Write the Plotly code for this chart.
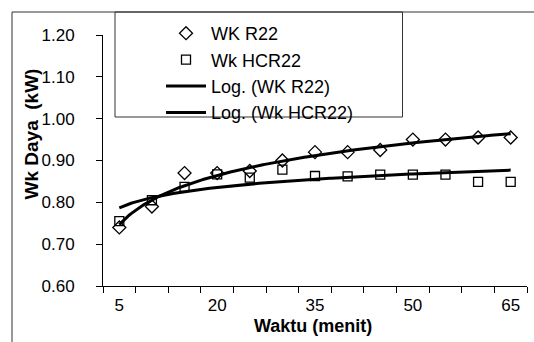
import numpy as np
import plotly.graph_objects as go

# ---- data ----
waktu = [5, 10, 15, 20, 25, 30, 35, 40, 45, 50, 55, 60, 65]
wk_r22 = [0.74, 0.79, 0.87, 0.87, 0.875, 0.90, 0.92, 0.92, 0.925, 0.95, 0.95, 0.955, 0.955]
wk_hcr22 = [0.755, 0.805, 0.837, 0.867, 0.859, 0.878, 0.863, 0.862, 0.866, 0.866, 0.866, 0.849, 0.849]
x_ticks = [5, 20, 35, 50, 65]
y_ticks = [0.60, 0.70, 0.80, 0.90, 1.00, 1.10, 1.20]

# Logarithmic trendlines (Excel style: x = category index 1..n)
idx = np.arange(1, len(waktu) + 1)
fine_idx = np.linspace(1, len(waktu), 200)
fine_x = np.interp(fine_idx, idx, waktu)
b_r22, a_r22 = np.polyfit(np.log(idx), wk_r22, 1)
b_hc, a_hc = np.polyfit(np.log(idx), wk_hcr22, 1)
trend_r22 = a_r22 + b_r22 * np.log(fine_idx)
trend_hc = a_hc + b_hc * np.log(fine_idx)

FONT = "Liberation Sans, Arial, sans-serif"

fig = go.Figure()
fig.add_trace(go.Scatter(x=waktu, y=wk_r22, mode="markers", name="WK R22",
                         marker=dict(symbol="diamond-open", size=10, color="black",
                                     line=dict(width=1.3, color="black"))))
fig.add_trace(go.Scatter(x=waktu, y=wk_hcr22, mode="markers", name="Wk HCR22",
                         marker=dict(symbol="square-open", size=9, color="black",
                                     line=dict(width=1.3, color="black"))))
fig.add_trace(go.Scatter(x=fine_x, y=trend_r22, mode="lines", name="Log. (WK R22)",
                         line=dict(color="black", width=3)))
fig.add_trace(go.Scatter(x=fine_x, y=trend_hc, mode="lines", name="Log. (Wk HCR22)",
                         line=dict(color="black", width=3)))

L, R, T, B = 103, 7, 35, 56
W, H = 534, 342
pw, ph = W - L - R, H - T - B

def px_x(p):
    return (p - L) / pw

def px_y(p):
    return (H - B - p) / ph

fig.update_layout(
    width=W, height=H,
    margin=dict(l=L, r=R, t=T, b=B, autoexpand=False),
    paper_bgcolor="white", plot_bgcolor="white",
    font=dict(family=FONT, color="black", size=17),
    showlegend=True,
    legend=dict(x=px_x(161), y=px_y(15), xanchor="left", yanchor="top",
                bgcolor="rgba(0,0,0,0)", borderwidth=0,
                font=dict(family=FONT, size=18, color="black"),
                itemwidth=40, tracegroupgap=0),
    xaxis=dict(range=[2.5, 67.5], tickmode="array", tickvals=x_ticks,
               ticktext=[str(v) for v in x_ticks], ticks="", showgrid=False,
               zeroline=False, showline=True, linecolor="black", linewidth=1,
               ticklabelstandoff=4, automargin=False,
               tickfont=dict(family=FONT, size=17),
               minor=dict(tick0=2.5, dtick=5, ticks="outside", ticklen=6,
                          tickcolor="black", tickwidth=1, showgrid=False)),
    yaxis=dict(range=[0.6, 1.2], tickmode="array", tickvals=y_ticks,
               ticktext=[f"{v:.2f}" for v in y_ticks], ticks="outside",
               ticklen=6, tickcolor="black", showgrid=False, zeroline=False,
               showline=True, linecolor="black", linewidth=1,
               ticklabelstandoff=18, automargin=False,
               tickfont=dict(family=FONT, size=17)),
    shapes=[
        # legend box
        dict(type="rect", xref="paper", yref="paper",
             x0=px_x(115), x1=px_x(402.5), y0=px_y(117), y1=px_y(12),
             line=dict(color="#333333", width=1), fillcolor="white", layer="below"),
        # outer chart border (left and top)
        dict(type="line", xref="paper", yref="paper",
             x0=px_x(12), x1=px_x(12), y0=px_y(350), y1=px_y(12),
             line=dict(color="#333333", width=1)),
        dict(type="line", xref="paper", yref="paper",
             x0=px_x(12), x1=px_x(540), y0=px_y(12), y1=px_y(12),
             line=dict(color="#333333", width=1)),
    ],
    annotations=[
        dict(text="<b>Wk Daya  (kW)</b>", xref="paper", yref="paper",
             x=px_x(30.5), y=px_y(134), textangle=-90, showarrow=False,
             xanchor="center", yanchor="middle",
             font=dict(family=FONT, size=19, color="black")),
        dict(text="<b>Waktu (menit)</b>", xref="paper", yref="paper",
             x=px_x(312.7), y=px_y(326), showarrow=False,
             xanchor="center", yanchor="middle",
             font=dict(family=FONT, size=18, color="black")),
    ],
)

fig.write_html("out.html", config={"displayModeBar": False},
               post_script="document.body.style.margin='0px';document.body.style.overflow='hidden';")
